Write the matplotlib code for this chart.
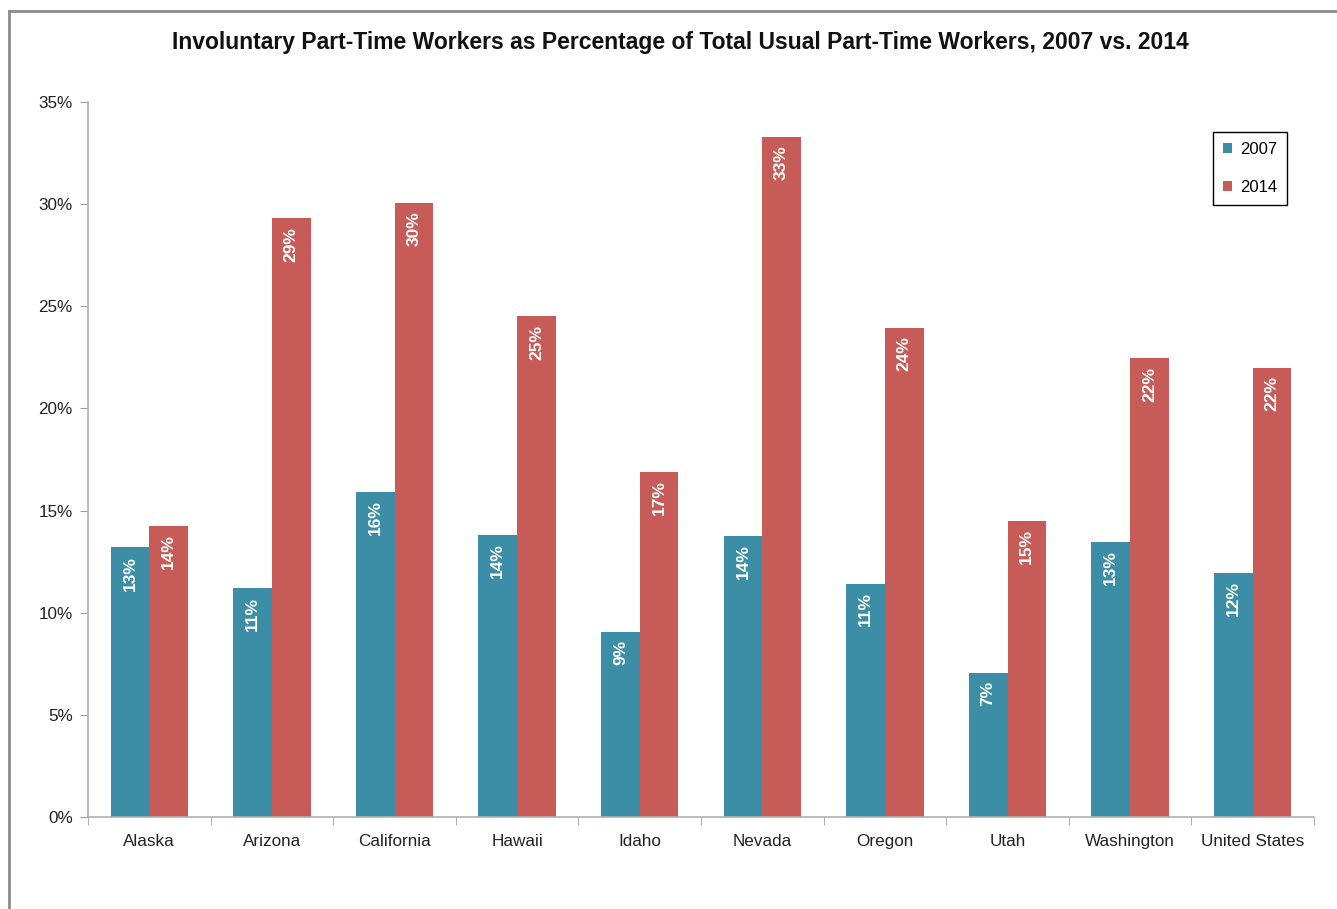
import matplotlib.pyplot as plt
from matplotlib.lines import Line2D
import numpy as np

states = ["Alaska", "Arizona", "California", "Hawaii", "Idaho", "Nevada",
          "Oregon", "Utah", "Washington", "United States"]
vals_2007 = [13.2, 11.2, 15.9, 13.8, 9.06, 13.75, 11.4, 7.05, 13.46, 11.95]
vals_2014 = [14.25, 29.3, 30.05, 24.5, 16.9, 33.3, 23.95, 14.5, 22.45, 22.0]
series_names = ["2007", "2014"]
y_ticks = [0, 5, 10, 15, 20, 25, 30, 35]

teal = "#3B8EA5"
red = "#C65B57"

plt.rcParams['font.family'] = ["Liberation Sans", "Arial", "DejaVu Sans"]

W, H = 1337, 909
fig = plt.figure(figsize=(W / 100, H / 100), dpi=100)
ax = fig.add_axes([88 / W, (H - 817) / H, (1314 - 88) / W, (817 - 102) / H])

x = np.arange(len(states))
bw = 0.315
b1 = ax.bar(x - bw / 2, vals_2007, bw, color=teal, label=series_names[0])
b2 = ax.bar(x + bw / 2, vals_2014, bw, color=red, label=series_names[1])

for bars, vals in [(b1, vals_2007), (b2, vals_2014)]:
    for rect, v in zip(bars, vals):
        ax.annotate(f"{round(v + 1e-9):.0f}%",
                    (rect.get_x() + rect.get_width() / 2, v),
                    xytext=(0, -6), textcoords="offset points",
                    rotation=90, ha="center", va="top", color="white",
                    fontsize=12.5, fontweight="bold")

ax.set_xlim(-0.5, len(states) - 0.5)
ax.set_ylim(0, 35)
ax.set_yticks(y_ticks)
ax.set_yticklabels([f"{t}%" for t in y_ticks], fontsize=12.3, color="#222222")
ax.set_xticks(x)
ax.set_xticklabels(states, fontsize=12.3, color="#222222")
ax.tick_params(axis="x", length=0, pad=12)
ax.set_xticks(np.arange(-0.5, len(states), 1), minor=True)
ax.tick_params(axis="x", which="minor", length=6, color="#a0a0a0", direction="out")
ax.tick_params(axis="y", length=6, color="#a0a0a0", direction="out", pad=5)

for s in ["top", "right"]:
    ax.spines[s].set_visible(False)
for s in ["left", "bottom"]:
    ax.spines[s].set_color("#b0b0b0")
    ax.spines[s].set_linewidth(1.2)

leg = fig.legend(handles=[b1, b2], loc="upper right",
                 bbox_to_anchor=(1287 / W, 1 - 132 / H), borderaxespad=0,
                 fontsize=12, handlelength=0.55, handleheight=0.55,
                 handletextpad=0.45, labelspacing=1.4, borderpad=0.6,
                 fancybox=False, framealpha=1, edgecolor="black")
leg.get_frame().set_linewidth(1.0)

fig.text(680 / W, 1 - 42 / H,
         "Involuntary Part-Time Workers as Percentage of Total Usual Part-Time Workers, 2007 vs. 2014",
         ha="center", va="center", fontsize=16.5, fontweight="bold", color="#111111")

# outer chart frame
fig.add_artist(Line2D([9 / W, 1], [1 - 10.5 / H, 1 - 10.5 / H], transform=fig.transFigure,
                      color="#8c8c8c", lw=2))
fig.add_artist(Line2D([9 / W, 9 / W], [0, 1 - 10.5 / H], transform=fig.transFigure,
                      color="#8c8c8c", lw=2))

fig.savefig("out.png", dpi=100)
